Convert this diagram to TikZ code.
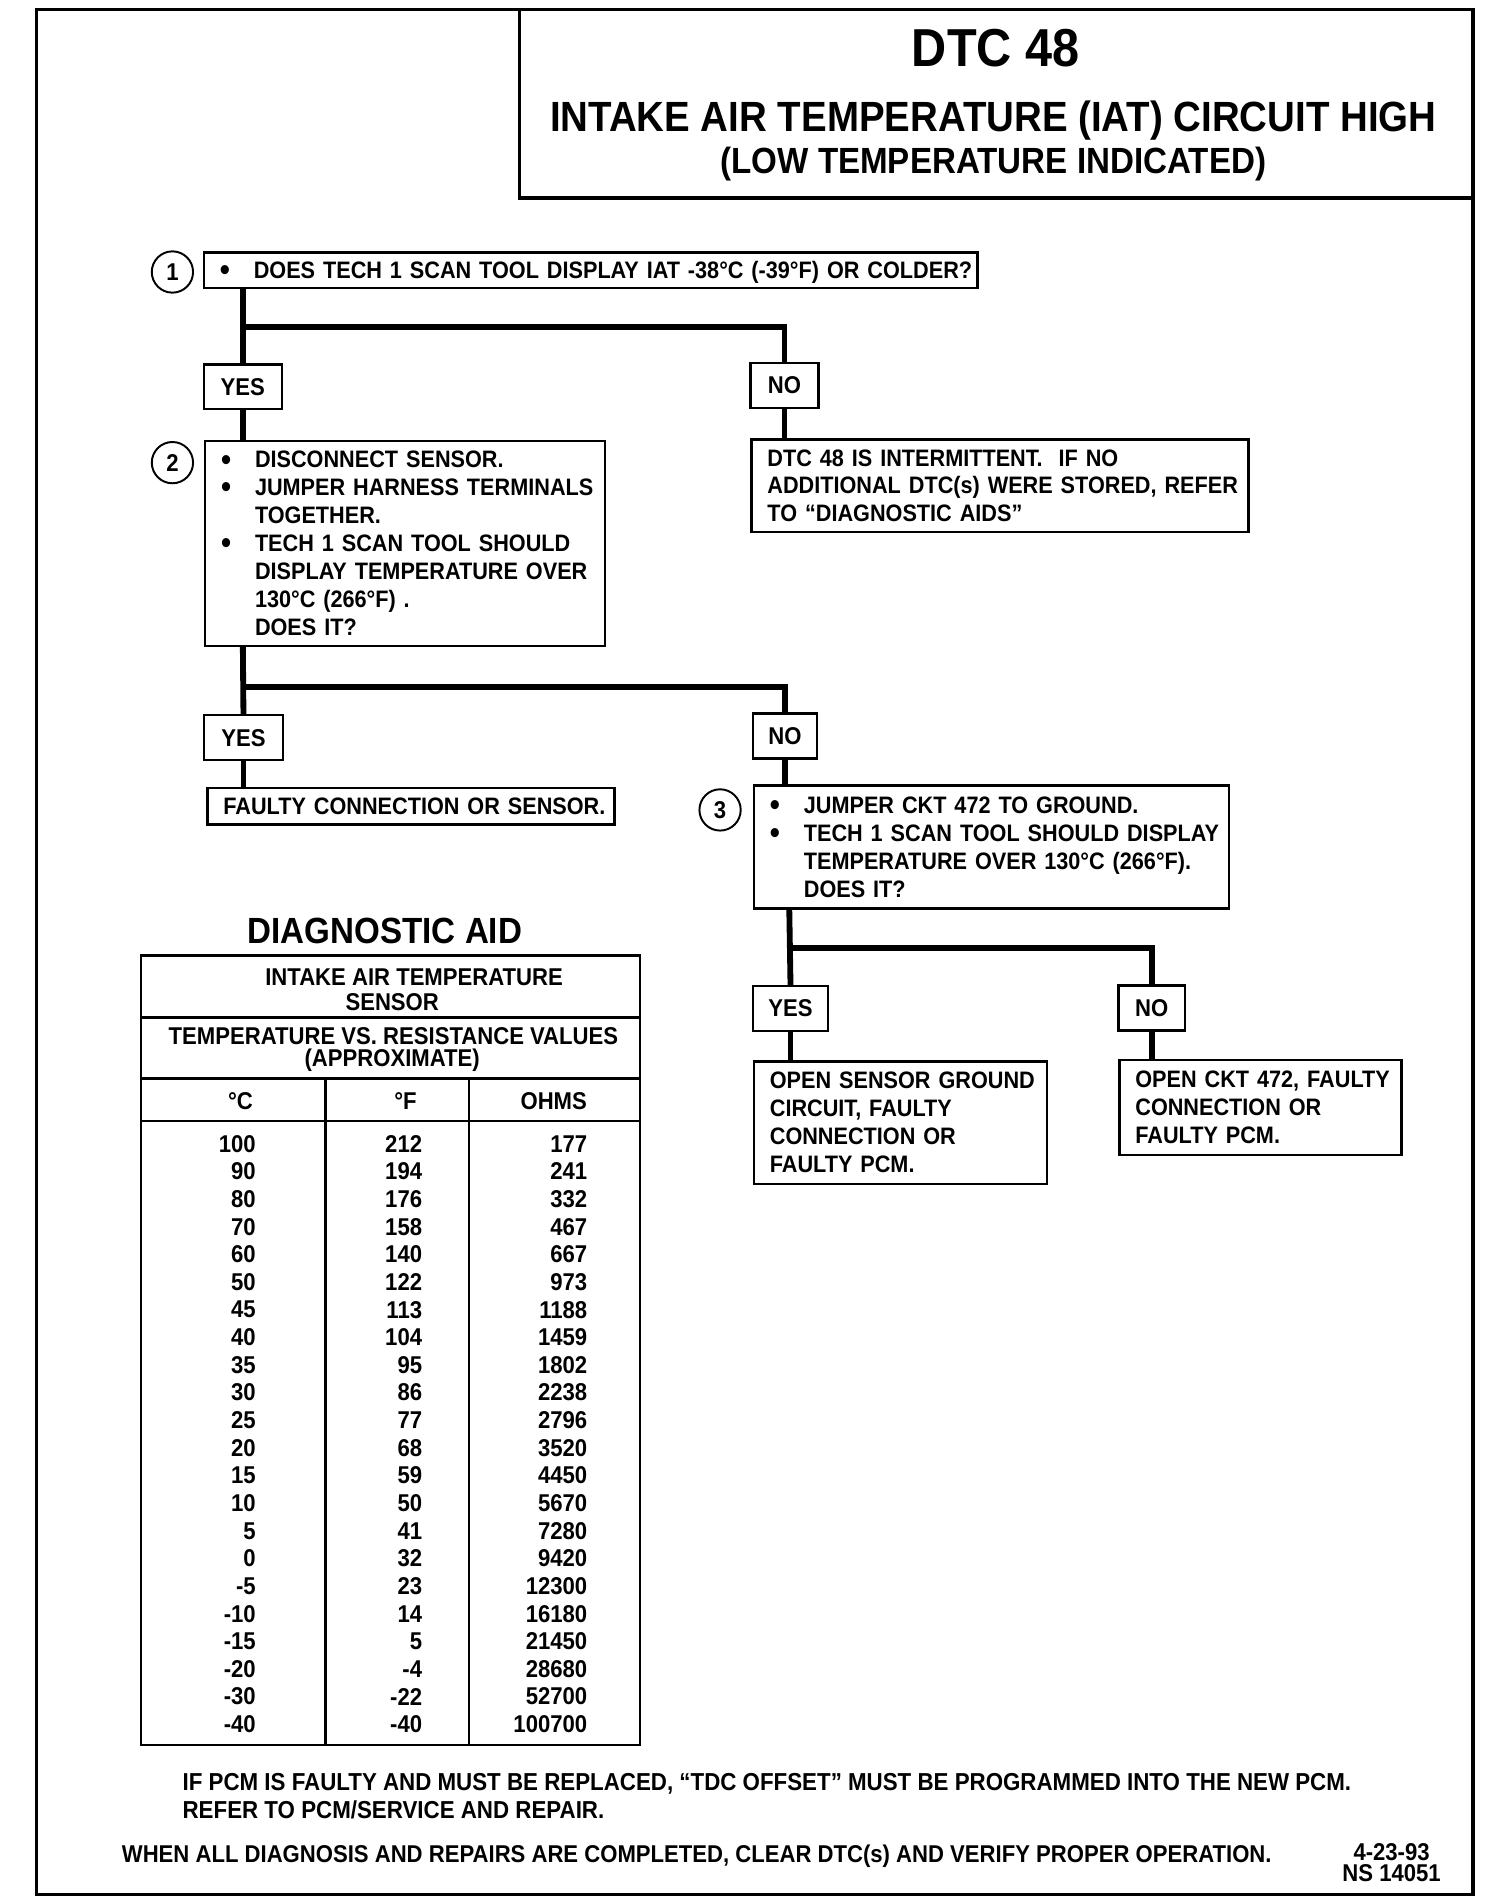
\documentclass[tikz,border=0pt]{standalone}
\usepackage{fontspec}
\setmainfont{Liberation Sans}[FakeStretch=0.91]
\usetikzlibrary{positioning}

\newcommand{\bu}{\makebox[14pt][l]{\raisebox{-0.9pt}{\fontsize{13}{13}\selectfont\textbullet}}}
\newcommand{\hang}{\hspace*{14pt}}
\newcommand{\rows}[1]{\raisebox{-1.1pt}[\height][\depth]{\begin{tabular}{@{}l@{}}#1\end{tabular}}}

\begin{document}
\begin{tikzpicture}[x=0.5pt,y=-0.5pt,
  font=\fontsize{10}{11.5}\selectfont\bfseries,
  frame/.style={draw,line width=1.3pt},
  qbox/.style={draw,line width=1pt,anchor=north west,align=left,inner xsep=6.5pt,inner ysep=0pt,
    font=\fontsize{9.8}{11.5}\selectfont\bfseries},
  ans/.style={draw,line width=1pt,inner sep=0pt,minimum height=18.5pt},
  num/.style={draw,circle,line width=0.8pt,minimum size=17pt,inner sep=0pt},
  ln/.style={line width=2.4pt},
  cell/.style={anchor=east,inner sep=0pt}]
\useasboundingbox (0,0) rectangle (1225,1568);
\draw[frame] (30,8) rectangle (1213,1560);
\draw[frame] (428,8) rectangle (1213,163);
\node[font=\fontsize{22}{26}\selectfont\bfseries] (dtc) at (820,40) {DTC 48};
\node[font=\fontsize{17.4}{20}\selectfont\bfseries] (ttl) at (818,99) {INTAKE AIR TEMPERATURE (IAT) CIRCUIT HIGH};
\node[font=\fontsize{15}{18}\selectfont\bfseries] (sub) at (818,135) {(LOW TEMPERATURE INDICATED)};

% step 1
\node[num] (c1) at (142,224) {1};
\node[qbox,text width=305.5pt,minimum height=14.5pt] (q1) at (167,207)
  {\rows{\bu DOES TECH 1 SCAN TOOL DISPLAY IAT -38°C (-39°F) OR COLDER?}};
\coordinate (br1) at (200,269);
\node[ans,minimum width=32pt] (y1) at (200,318.5) {YES};
\node[ans,minimum width=28pt] (no1) at (646,317.5) {NO};
\draw[ln] (y1 |- q1.south) -- (y1.north);
\draw[ln] (br1) -| (no1.north);

% step 2
\node[num] (c2) at (142,381) {2};
\node[qbox,text width=151.5pt,minimum height=84.5pt] (q2) at (168,362)
  {\rows{\bu DISCONNECT SENSOR.\\
   \bu JUMPER HARNESS TERMINALS\\
   \hang TOGETHER.\\
   \bu TECH 1 SCAN TOOL SHOULD\\
   \hang DISPLAY TEMPERATURE OVER\\
   \hang 130°C (266°F) .\\
   \hang DOES IT?}};
\node[qbox,text width=191.5pt,minimum height=38pt] (r1) at (618,361)
  {\rows{DTC 48 IS INTERMITTENT.\ \ IF NO\\
   ADDITIONAL DTC(s) WERE STORED, REFER\\
   TO “DIAGNOSTIC AIDS”}};
\draw[ln] (y1.south) -- (y1.south |- q2.north);
\draw[ln] (no1.south) -- (no1.south |- r1.north);
\coordinate (br2) at (200,566);
\node[ans,minimum width=32.5pt] (y2) at (200.5,607.5) {YES};
\node[ans,minimum width=26.5pt] (no2) at (646.5,606) {NO};
\draw[ln] (br2 |- q2.south) -- (y2.north);
\draw[ln] (br2) -| (no2.north);

% step 3
\node[qbox,text width=154.5pt,minimum height=15pt] (r2) at (170,648)
  {\rows{FAULTY CONNECTION OR SENSOR.}};
\node[num] (c3) at (593,667) {3};
\node[qbox,text width=182.5pt,minimum height=50.5pt] (q3) at (620,646)
  {\rows{\bu JUMPER CKT 472 TO GROUND.\\
   \bu TECH 1 SCAN TOOL SHOULD DISPLAY\\
   \hang TEMPERATURE OVER 130°C (266°F).\\
   \hang DOES IT?}};
\draw[ln] (y2.south) -- (y2.south |- r2.north);
\draw[ln] (no2.south) -- (no2.south |- q3.north);
\coordinate (br3) at (650,781);
\node[ans,minimum width=31pt] (y3) at (651,830.5) {YES};
\node[ans,minimum width=27.5pt] (no3) at (948.5,830) {NO};
\draw[ln] (br3 |- q3.south) -- (y3.north);
\draw[ln] (br3) -| (no3.north);
\node[qbox,text width=107.5pt,minimum height=50.5pt] (r3) at (620,873)
  {\rows{OPEN SENSOR GROUND\\
   CIRCUIT, FAULTY\\
   CONNECTION OR\\
   FAULTY PCM.}};
\node[qbox,text width=103pt,minimum height=39pt] (r4) at (921,872)
  {\rows{OPEN CKT 472, FAULTY\\
   CONNECTION OR\\
   FAULTY PCM.}};
\draw[ln] (y3.south) -- (y3.south |- r3.north);
\draw[ln] (no3.south) -- (no3.south |- r4.north);

% diagnostic aid table
\node[font=\fontsize{15}{18}\selectfont\bfseries] (aid) at (317,767) {DIAGNOSTIC AID};
\draw[line width=1pt] (116,787) rectangle (527,1437);
\draw[line width=1pt] (116,838) -- (527,838) (116,888) -- (527,888) (116,923) -- (527,923);
\draw[line width=1pt] (268,888) -- (268,1437) (386,888) -- (386,1437);
\node (h1) at (341,805) {INTAKE AIR TEMPERATURE};
\node (h2) at (323,825) {SENSOR};
\node (h3) at (324,853) {TEMPERATURE VS. RESISTANCE VALUES};
\node (h4) at (323,873) {(APPROXIMATE)};
\node (hc) at (198,907) {°C};
\node (hf) at (334,907) {°F};
\node (ho) at (456,907) {OHMS};
\foreach \c/\f/\o [count=\i from 0] in {100/212/177,90/194/241,80/176/332,
  70/158/467,60/140/667,50/122/973,45/113/1188,40/104/1459,35/95/1802,
  30/86/2238,25/77/2796,20/68/3520,15/59/4450,10/50/5670,5/41/7280,
  0/32/9420,-5/23/12300,-10/14/16180,-15/5/21450,-20/-4/28680,
  -30/-22/52700,-40/-40/100700}{
  \node[cell] (tc\i) at (211,{942+22.76*\i}) {\c};
  \node[cell] (tf\i) at (348,{942+22.76*\i}) {\f};
  \node[cell] (to\i) at (484,{942+22.76*\i}) {\o};
}

% notes
\node[anchor=west,align=left,inner sep=0pt,font=\fontsize{10.1}{11.5}\selectfont\bfseries] (pcm) at (150,1479.5)
  {IF PCM IS FAULTY AND MUST BE REPLACED, “TDC OFFSET” MUST BE PROGRAMMED INTO THE NEW PCM.\\
   REFER TO PCM/SERVICE AND REPAIR.};
\node[anchor=west,inner sep=0pt] (clr) at (100,1529)
  {WHEN ALL DIAGNOSIS AND REPAIRS ARE COMPLETED, CLEAR DTC(s) AND VERIFY PROPER OPERATION.};
\node[align=center,inner sep=0pt,font=\fontsize{10}{8.5}\selectfont\bfseries] (ns) at (1146,1534)
  {4-23-93\\NS 14051};
\end{tikzpicture}
\end{document}
